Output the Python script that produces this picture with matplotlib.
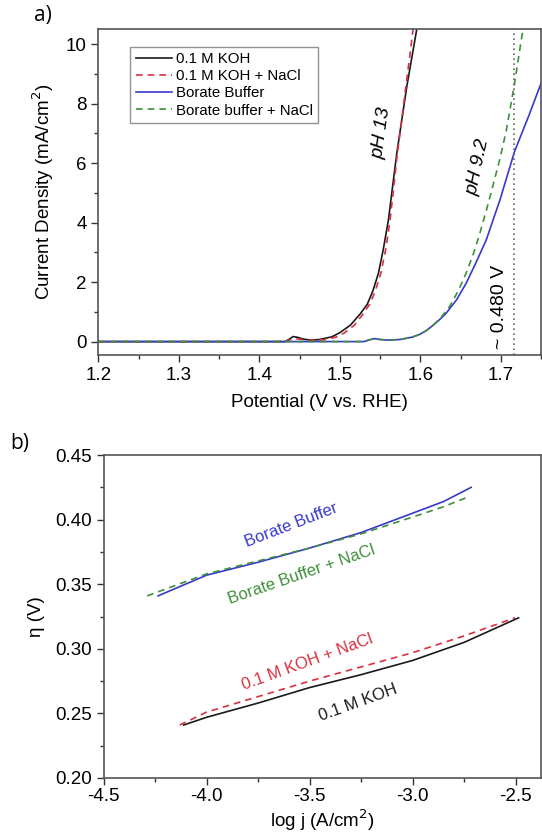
import matplotlib
matplotlib.use("Agg")
import matplotlib.pyplot as plt
from matplotlib.ticker import MultipleLocator

plt.rcParams['font.family'] = ['Liberation Sans', 'DejaVu Sans']

# ---- panel a data (Potential V vs RHE, current density mA/cm2)
koh_v = [1.20, 1.432, 1.437, 1.442, 1.448, 1.455, 1.465, 1.475, 1.49, 1.50, 1.513, 1.525,
         1.534, 1.541, 1.548, 1.554, 1.5604, 1.5655, 1.5708, 1.577, 1.5832, 1.5895, 1.5956]
koh_j = [0.0, 0.0, 0.08, 0.17, 0.14, 0.08, 0.05, 0.07, 0.16, 0.30, 0.55, 0.92,
         1.25, 1.7, 2.3, 3.1, 4.09, 5.2, 6.33, 7.45, 8.57, 9.55, 10.5]
kohnacl_v = [1.20, 1.432, 1.437, 1.442, 1.448, 1.455, 1.465, 1.48, 1.495, 1.505, 1.518, 1.528,
             1.537, 1.544, 1.551, 1.557, 1.5625, 1.567, 1.5715, 1.577, 1.582, 1.5865, 1.591]
kohnacl_j = [0.0, 0.0, 0.05, 0.10, 0.09, 0.06, 0.04, 0.06, 0.15, 0.28, 0.55, 0.90,
             1.25, 1.7, 2.3, 3.1, 4.09, 5.2, 6.33, 7.45, 8.57, 9.5, 10.5]
bor_v = [1.20, 1.53, 1.537, 1.543, 1.55, 1.56, 1.575, 1.59, 1.60, 1.608, 1.616, 1.624,
         1.632, 1.645, 1.657, 1.67, 1.682, 1.699, 1.717, 1.735, 1.75]
bor_j = [0.0, 0.0, 0.06, 0.10, 0.07, 0.05, 0.07, 0.15, 0.25, 0.38, 0.55, 0.74,
         0.95, 1.40, 1.96, 2.7, 3.42, 4.76, 6.38, 7.6, 8.68]
borna_v = [1.20, 1.53, 1.537, 1.543, 1.55, 1.56, 1.575, 1.59, 1.60, 1.608, 1.616, 1.626,
           1.6365, 1.647, 1.657, 1.666, 1.674, 1.682, 1.690, 1.699, 1.707, 1.717, 1.7276]
borna_j = [0.0, 0.0, 0.06, 0.10, 0.07, 0.05, 0.07, 0.15, 0.25, 0.38, 0.55, 0.82,
           1.18, 1.70, 2.30, 2.95, 3.64, 4.40, 5.21, 6.15, 7.11, 8.65, 10.5]
marker_v = 1.717

# ---- panel b data (log j A/cm2, overpotential V)
b_bor_x = [-4.235, -4.0, -3.75, -3.5, -3.25, -3.0, -2.85, -2.716]
b_bor_y = [0.341, 0.357, 0.367, 0.378, 0.390, 0.405, 0.414, 0.425]
b_borna_x = [-4.288, -4.0, -3.75, -3.5, -3.25, -3.0, -2.85, -2.724]
b_borna_y = [0.341, 0.358, 0.368, 0.378, 0.389, 0.402, 0.410, 0.418]
b_koh_x = [-4.111, -4.0, -3.75, -3.5, -3.25, -3.0, -2.75, -2.486]
b_koh_y = [0.241, 0.247, 0.258, 0.270, 0.280, 0.291, 0.305, 0.324]
b_kohna_x = [-4.13, -4.0, -3.75, -3.5, -3.25, -3.0, -2.75, -2.503]
b_kohna_y = [0.241, 0.251, 0.263, 0.275, 0.286, 0.297, 0.310, 0.324]

c_black = '#1a1a1a'
c_red = '#d9303f'
c_blue = '#3838cc'
c_green = '#3f8f3a'

fig = plt.figure(figsize=(5.42, 8.38), dpi=100)

ax1 = fig.add_axes([0.1817, 0.5764, 0.8164, 0.3887])
ax1.plot(koh_v, koh_j, color=c_black, lw=1.2, label='0.1 M KOH')
ax1.plot(kohnacl_v, kohnacl_j, color=c_red, lw=1.2, ls=(0, (4, 3)), label='0.1 M KOH + NaCl')
ax1.plot(bor_v, bor_j, color=c_blue, lw=1.2, label='Borate Buffer')
ax1.plot(borna_v, borna_j, color=c_green, lw=1.2, ls=(0, (4, 3)), label='Borate buffer + NaCl')
ax1.axvline(marker_v, color='#666666', lw=1.2, ls=(0, (1, 2)))
ax1.set_xlim(1.2, 1.75)
ax1.set_ylim(-0.45, 10.5)
ax1.xaxis.set_major_locator(MultipleLocator(0.1))
ax1.xaxis.set_minor_locator(MultipleLocator(0.05))
ax1.yaxis.set_major_locator(MultipleLocator(2))
ax1.yaxis.set_minor_locator(MultipleLocator(1))
ax1.tick_params(which='major', direction='out', length=5, width=1, labelsize=13.5, color='#333333')
ax1.tick_params(which='minor', direction='out', length=3, width=1, color='#333333')
ax1.set_xlabel('Potential (V vs. RHE)', fontsize=13.5, labelpad=7)
ax1.set_ylabel('Current Density (mA/cm$^2$)', fontsize=13.5, labelpad=7)
for s in ax1.spines.values():
    s.set_color('#555555')
    s.set_linewidth(1.2)
leg = ax1.legend(loc='upper left', bbox_to_anchor=(0.055, 0.97), fontsize=10.8,
                 frameon=True, fancybox=False, edgecolor='#777777', handlelength=2.4,
                 handletextpad=0.3, borderpad=0.35, labelspacing=0.22)
leg.get_frame().set_linewidth(1.0)
ax1.text(1.5521, 7.0, 'pH 13', rotation=82, fontsize=14, style='italic',
         ha='center', va='center')
ax1.text(1.6717, 5.88, 'pH 9.2', rotation=78, fontsize=14, style='italic',
         ha='center', va='center')
ax1.text(1.6986, 1.18, '~ 0.480 V', rotation=90, fontsize=14, ha='center', va='center')
fig.text(0.08, 0.982, 'a)', fontsize=15, family='Open Sans', ha='center', va='center')

ax2 = fig.add_axes([0.191, 0.0716, 0.808, 0.3854])
ax2.plot(b_bor_x, b_bor_y, color=c_blue, lw=1.2)
ax2.plot(b_borna_x, b_borna_y, color=c_green, lw=1.2, ls=(0, (4, 3)))
ax2.plot(b_koh_x, b_koh_y, color=c_black, lw=1.2)
ax2.plot(b_kohna_x, b_kohna_y, color=c_red, lw=1.2, ls=(0, (4, 3)))
ax2.set_xlim(-4.5, -2.375)
ax2.set_ylim(0.20, 0.45)
ax2.xaxis.set_major_locator(MultipleLocator(0.5))
ax2.xaxis.set_minor_locator(MultipleLocator(0.25))
ax2.yaxis.set_major_locator(MultipleLocator(0.05))
ax2.yaxis.set_minor_locator(MultipleLocator(0.025))
ax2.xaxis.set_major_formatter(plt.FuncFormatter(lambda v, p: f'{v:.1f}'))
ax2.yaxis.set_major_formatter(plt.FuncFormatter(lambda v, p: f'{v:.2f}'))
ax2.tick_params(which='major', direction='out', length=5, width=1, labelsize=13.5, color='#333333')
ax2.tick_params(which='minor', direction='out', length=3, width=1, color='#333333')
ax2.tick_params(axis='x', which='major', pad=2)
ax2.set_xlabel('log j (A/cm$^2$)', fontsize=13.5, labelpad=2)
ax2.set_ylabel('η (V)', fontsize=13.5, labelpad=7)
for s in ax2.spines.values():
    s.set_color('#555555')
    s.set_linewidth(1.2)
ax2.text(-3.59, 0.396, 'Borate Buffer', color=c_blue, rotation=21, fontsize=12,
         ha='center', va='center')
ax2.text(-3.537, 0.3577, 'Borate Buffer + NaCl', color=c_green, rotation=19, fontsize=12,
         ha='center', va='center')
ax2.text(-3.51, 0.290, '0.1 M KOH + NaCl', color=c_red, rotation=20, fontsize=12,
         ha='center', va='center')
ax2.text(-3.263, 0.2585, '0.1 M KOH', color=c_black, rotation=20, fontsize=12,
         ha='center', va='center')
fig.text(0.037, 0.471, 'b)', fontsize=15, family='Open Sans', ha='center', va='center')

fig.savefig('out.png', dpi=100)
